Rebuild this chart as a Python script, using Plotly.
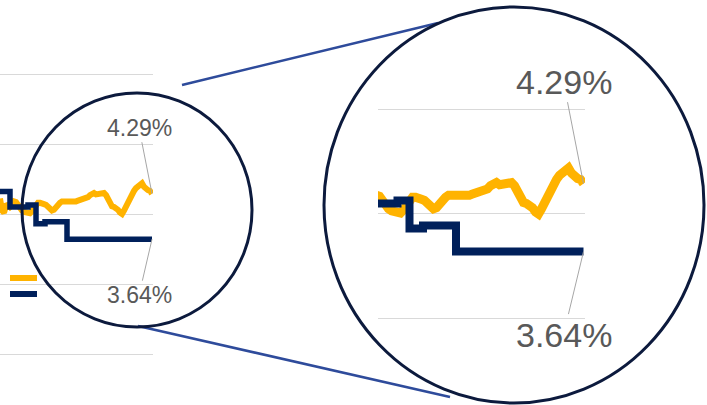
import plotly.graph_objects as go

W, H = 707, 405

# ---- data ----
yellow_days = list(range(0, 153, 2))
yellow_vals = [4.22, 4.05, 4.02, 4.12, 4.13, 4.10, 4.13, 4.18, 4.17, 4.12,
               4.08, 4.05, 4.03, 4.02, 4.01, 4.01, 4.04, 4.09, 4.14, 4.16,
               4.16, 4.14, 4.14, 4.13, 4.10, 4.07, 4.05, 4.06, 4.10, 4.13,
               4.16, 4.18, 4.18, 4.16, 4.17, 4.18, 4.16, 4.17, 4.18, 4.19,
               4.20, 4.20, 4.20, 4.21, 4.24, 4.27, 4.29, 4.30, 4.28, 4.28,
               4.28, 4.30, 4.30, 4.27, 4.21, 4.15, 4.11, 4.10, 4.09, 4.06,
               4.02, 4.00, 4.05, 4.11, 4.17, 4.24, 4.30, 4.33, 4.37, 4.40,
               4.44, 4.44, 4.39, 4.35, 4.34, 4.33, 4.29]
navy_days = [0, 10, 28, 36, 45, 67, 152]
navy_vals = [4.32, 4.10, 4.13, 3.86, 3.89, 3.64, 3.64]
last_yellow_label = "4.29%"
last_navy_label = "3.64%"

YELLOW = "#FFB300"
NAVY = "#00205B"
RING = "#0C1A3D"
CONNECT = "#2E4B9B"
GRID = "#D9D9D9"
LABEL = "#595959"
FONT = "Liberation Sans, Arial, sans-serif"

def px(x):
    return x / W

def py(y):
    return 1 - y / H

fig = go.Figure()

# small chart
fig.add_trace(go.Scatter(x=yellow_days, y=yellow_vals, mode="lines",
                         line=dict(color=YELLOW, width=6), xaxis="x", yaxis="y",
                         showlegend=False, hoverinfo="skip"))
fig.add_trace(go.Scatter(x=navy_days, y=navy_vals, mode="lines", line_shape="hv",
                         line=dict(color=NAVY, width=5.5), xaxis="x", yaxis="y",
                         showlegend=False, hoverinfo="skip"))
# magnified chart
fig.add_trace(go.Scatter(x=yellow_days, y=yellow_vals, mode="lines",
                         line=dict(color=YELLOW, width=9), xaxis="x2", yaxis="y2",
                         showlegend=False, hoverinfo="skip"))
fig.add_trace(go.Scatter(x=navy_days, y=navy_vals, mode="lines", line_shape="hv",
                         line=dict(color=NAVY, width=8), xaxis="x2", yaxis="y2",
                         showlegend=False, hoverinfo="skip"))

ax_common = dict(showticklabels=False, ticks="", zeroline=False, showline=False)
fig.update_layout(
    width=W, height=H, margin=dict(l=0, r=0, t=0, b=0),
    paper_bgcolor="white", plot_bgcolor="rgba(0,0,0,0)",
    xaxis=dict(domain=[0, px(153)], range=[0, 153], showgrid=False, **ax_common),
    yaxis=dict(domain=[0, py(60)], range=[1.2714, 6.2], dtick=1, tick0=0,
               showgrid=True, gridcolor=GRID, gridwidth=1.3, **ax_common),
    xaxis2=dict(domain=[px(378), px(585)], range=[15, 153], showgrid=False,
                anchor="y2", **ax_common),
    yaxis2=dict(domain=[0, py(50)], range=[2.1722, 5.569], dtick=1, tick0=0,
                showgrid=True, gridcolor=GRID, gridwidth=1.3, anchor="x2", **ax_common),
)

last_x = yellow_days[-1]
anns = [
    dict(x=last_x, y=yellow_vals[-1], xref="x", yref="y", text=last_yellow_label,
         ax=-13, ay=-66, font=dict(size=23)),
    dict(x=last_x, y=navy_vals[-1], xref="x", yref="y", text=last_navy_label,
         ax=-13, ay=56, font=dict(size=23)),
    dict(x=last_x, y=yellow_vals[-1], xref="x2", yref="y2", text=last_yellow_label,
         ax=-20, ay=-102, font=dict(size=34)),
    dict(x=last_x, y=navy_vals[-1], xref="x2", yref="y2", text=last_navy_label,
         ax=-20, ay=83, font=dict(size=34)),
]
for a in anns:
    a.update(showarrow=True, arrowhead=0, arrowwidth=1, arrowcolor="#A6A6A6")
    a["font"].update(family=FONT, color=LABEL)
fig.update_layout(annotations=anns)

shapes = [
    # connectors
    dict(type="line", xref="paper", yref="paper", x0=px(182), y0=py(85), x1=px(438), y1=py(23),
         line=dict(color=CONNECT, width=2.5)),
    dict(type="line", xref="paper", yref="paper", x0=px(138), y0=py(326), x1=px(450), y1=py(397),
         line=dict(color=CONNECT, width=2.5)),
    # rings
    dict(type="circle", xref="paper", yref="paper", x0=px(137 - 115), x1=px(137 + 115),
         y0=py(210 + 117), y1=py(210 - 117), line=dict(color=RING, width=3)),
    dict(type="circle", xref="paper", yref="paper", x0=px(514 - 190), x1=px(514 + 190),
         y0=py(205 + 198), y1=py(205 - 198), line=dict(color=RING, width=3)),
    # legend swatches
    dict(type="line", xref="paper", yref="paper", x0=px(10), x1=px(37), y0=py(278), y1=py(278),
         line=dict(color=YELLOW, width=6)),
    dict(type="line", xref="paper", yref="paper", x0=px(10), x1=px(37), y0=py(294), y1=py(294),
         line=dict(color=NAVY, width=6)),
]
fig.update_layout(shapes=shapes)

fig.write_html("out.html")
